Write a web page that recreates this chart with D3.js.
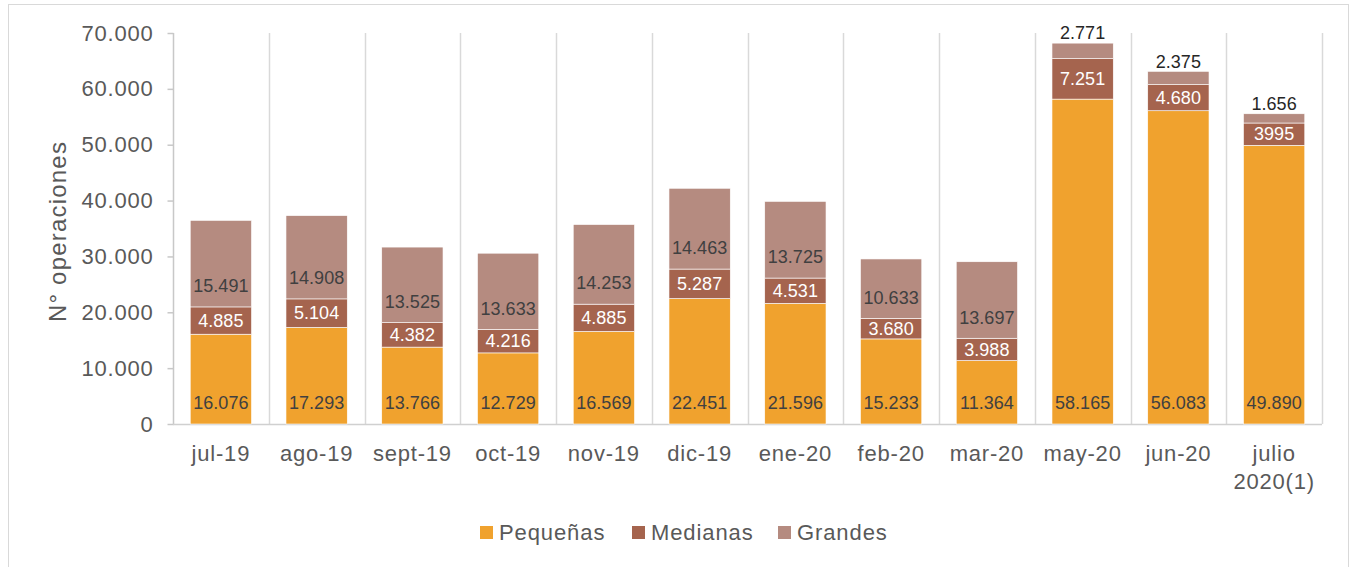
<!DOCTYPE html>
<html>
<head>
<meta charset="utf-8">
<script src="https://cdn.jsdelivr.net/npm/d3@7"></script>
<style>
  body { margin: 0; background: #fff; }
  text { font-family: 'Liberation Sans', Arial, sans-serif; }
</style>
</head>
<body>
<div id="chart"></div>
<script>
// categorias (meses)
const months = ['jul-19', 'ago-19', 'sept-19', 'oct-19', 'nov-19', 'dic-19', 'ene-20', 'feb-20', 'mar-20', 'may-20', 'jun-20', 'julio 2020(1)']
const pequenas = [16076, 17293, 13766, 12729, 16569, 22451, 21596, 15233, 11364, 58165, 56083, 49890]
const medianas = [4885, 5104, 4382, 4216, 4885, 5287, 4531, 3680, 3988, 7251, 4680, 3995]
const grandes = [15491, 14908, 13525, 13633, 14253, 14463, 13725, 10633, 13697, 2771, 2375, 1656]
const seriesNames = ['Pequeñas', 'Medianas', 'Grandes']
const yTicks = [0, 10000, 20000, 30000, 40000, 50000, 60000, 70000]
// etiqueta sin separador en el original
const plainLabels = [['Medianas', 'julio 2020(1)']]

const width = 1351
const height = 567
const margin = { left: 173, right: 29, top: 33, bottom: 143 }
const colors = { 'Pequeñas': '#F0A22E', 'Medianas': '#A5644E', 'Grandes': '#B58B80' }
const labelColor = { 'Pequeñas': '#404040', 'Medianas': '#ffffff', 'Grandes': '#404040' }

const table = months.map((m, i) => ({
  mes: m,
  'Pequeñas': pequenas[i],
  'Medianas': medianas[i],
  'Grandes': grandes[i]
}))

const locale = d3.formatLocale({ decimal: ',', thousands: '.', grouping: [3], currency: ['', '€'] })
const fmt = locale.format(',')

let svg = d3.select('#chart')
  .append('svg')
  .attr('width', width)
  .attr('height', height)

/* marco */
svg.append('rect')
  .attr('x', 8.5).attr('y', 4.5)
  .attr('width', 1340).attr('height', 570)
  .attr('fill', 'none')
  .attr('stroke', '#d9d9d9')

let x = d3.scaleBand()
  .domain(months)
  .range([margin.left, width - margin.right])
  .padding(0)

let y = d3.scaleLinear()
  .domain([0, 70000])
  .range([height - margin.bottom, margin.top])

const barW = x.bandwidth() * 0.64

/* lineas verticales entre categorias */
let gridX = months.map(m => x(m)).concat([x(months[months.length - 1]) + x.bandwidth()])
svg.append('g')
  .selectAll('line')
  .data(gridX.slice(1))
  .enter()
  .append('line')
  .attr('x1', d => Math.round(d) + 0.5)
  .attr('x2', d => Math.round(d) + 0.5)
  .attr('y1', y(70000))
  .attr('y2', y(0))
  .attr('stroke', '#d9d9d9')
  .attr('stroke-width', 1.5)

/* eje y */
let yAxis = d3.axisLeft(y)
  .tickValues(yTicks)
  .tickSize(6)
  .tickPadding(14)
  .tickFormat(d => fmt(d))
let gy = svg.append('g')
  .attr('transform', 'translate(' + (margin.left + 0.5) + ',0)')
  .call(yAxis)
gy.select('.domain').attr('stroke', '#c8c8c8').attr('stroke-width', 1.5).attr('d', 'M0,' + y(70000) + 'V' + y(0))
gy.selectAll('.tick line').attr('stroke', '#c8c8c8').attr('stroke-width', 1.5)
gy.selectAll('.tick text')
  .attr('fill', '#595959')
  .style('font-size', '22px')
  .style('letter-spacing', '0.8px')
  .style('font-family', "'Liberation Sans', Arial, sans-serif")

/* eje x */
svg.append('line')
  .attr('x1', margin.left)
  .attr('x2', width - margin.right)
  .attr('y1', y(0) + 0.5)
  .attr('y2', y(0) + 0.5)
  .attr('stroke', '#d0d0d0')
  .attr('stroke-width', 1.5)

/* barras apiladas */
let stack = d3.stack().keys(seriesNames)
let layers = stack(table)

let layer = svg.append('g')
  .selectAll('.layer')
  .data(layers)
  .enter()
  .append('g')
  .attr('class', 'layer')
  .attr('fill', d => colors[d.key])

layer.selectAll('rect')
  .data(d => d)
  .enter()
  .append('rect')
  .attr('x', d => x(d.data.mes) + (x.bandwidth() - barW) / 2)
  .attr('width', barW)
  .attr('y', d => y(d[1]))
  .attr('height', d => y(d[0]) - y(d[1]))
  .attr('stroke', '#fff')
  .attr('stroke-width', 0.6)

/* etiquetas */
layers.forEach(s => {
  svg.append('g')
    .selectAll('text')
    .data(s)
    .enter()
    .append('text')
    .attr('x', d => x(d.data.mes) + x.bandwidth() / 2)
    .attr('y', d => {
      let h = y(d[0]) - y(d[1])
      if (s.key === 'Medianas') return (y(d[0]) + y(d[1])) / 2
      if (s.key === 'Grandes' && h < 30) return y(d[1]) - 10
      return y(d[0]) - 21
    })
    .attr('dy', '0.35em')
    .attr('text-anchor', 'middle')
    .style('font-size', '18px')
    .attr('fill', d => {
      let h = y(d[0]) - y(d[1])
      if (s.key === 'Grandes' && h < 30) return '#262626'
      return labelColor[s.key]
    })
    .text(d => {
      let v = d.data[s.key]
      let plain = plainLabels.some(p => p[0] === s.key && p[1] === d.data.mes)
      return plain ? String(v) : fmt(v)
    })
})

/* etiquetas del eje x */
let xl = svg.append('g')
  .selectAll('text')
  .data(months)
  .enter()
  .append('text')
  .attr('x', d => x(d) + x.bandwidth() / 2)
  .attr('y', y(0) + 37)
  .attr('text-anchor', 'middle')
  .attr('fill', '#595959')
  .style('font-size', '22px')
  .style('letter-spacing', '0.8px')
xl.each(function(d) {
  let parts = d === 'julio 2020(1)' ? ['julio', '2020(1)'] : [d]
  let t = d3.select(this)
  parts.forEach((p, i) => {
    t.append('tspan')
      .attr('x', x(d) + x.bandwidth() / 2)
      .attr('dy', i === 0 ? 0 : 28)
      .text(p)
  })
})

/* titulo eje y */
svg.append('text')
  .attr('transform', 'translate(66,' + (y(35000) + 3) + ') rotate(-90)')
  .attr('text-anchor', 'middle')
  .attr('fill', '#595959')
  .style('font-size', '24px')
  .style('letter-spacing', '1.2px')
  .text('N° operaciones')

/* leyenda */
const legendX = [480, 632, 778]
let lg = svg.append('g')
  .selectAll('g')
  .data(seriesNames)
  .enter()
  .append('g')
  .attr('transform', (d, i) => 'translate(' + legendX[i] + ',526)')
lg.append('rect')
  .attr('width', 13)
  .attr('height', 13)
  .attr('fill', d => colors[d])
lg.append('text')
  .attr('x', 19)
  .attr('y', 14)
  .attr('fill', '#595959')
  .style('font-size', '22px')
  .style('letter-spacing', '0.9px')
  .text(d => d)
</script>
</body>
</html>
